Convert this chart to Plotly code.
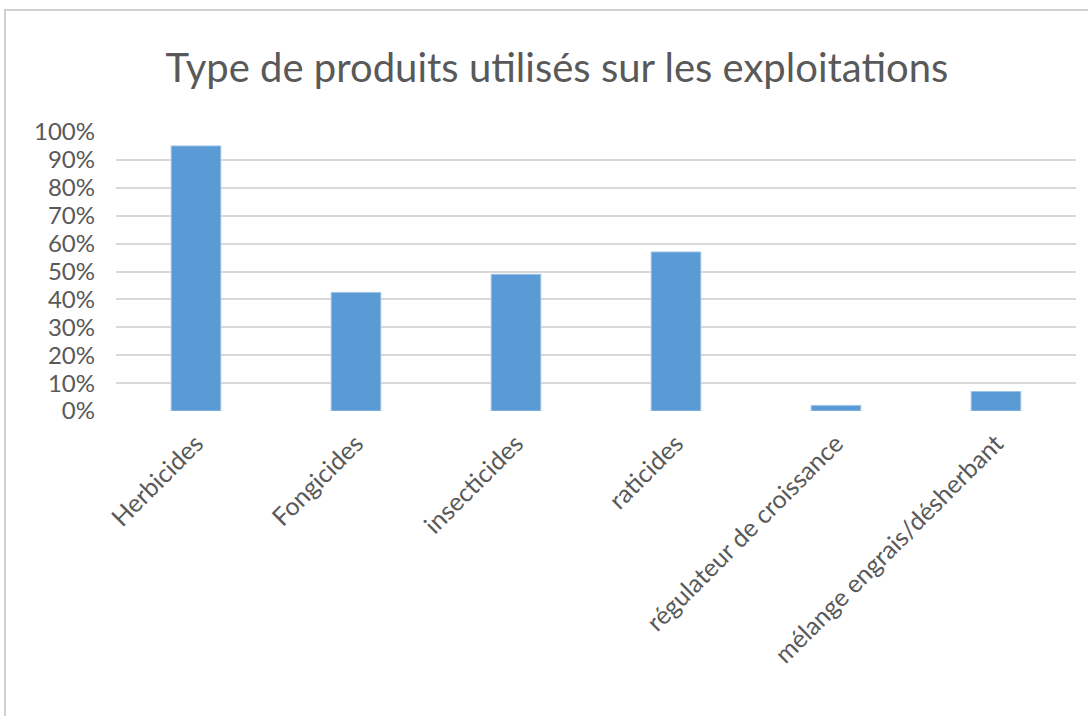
import plotly.graph_objects as go

categories = ["Herbicides", "Fongicides", "insecticides", "raticides",
              "régulateur de croissance", "mélange engrais/désherbant"]
values = [0.95, 0.425, 0.49, 0.57, 0.02, 0.07]
tick_vals = [0, 0.1, 0.2, 0.3, 0.4, 0.5, 0.6, 0.7, 0.8, 0.9, 1.0]
tick_text = ["0%", "10%", "20%", "30%", "40%", "50%", "60%", "70%", "80%", "90%", "100%"]
title = "Type de produits utilisés sur les exploitations"

FONT = "Lato, Open Sans, sans-serif"
GRAY = "#595959"

fig = go.Figure(go.Bar(
    x=categories, y=values, width=0.31,
    marker=dict(color="#5B9BD5", line=dict(color="#9DC3E6", width=1)),
))

# body margin is removed in the page, so figure pixels == reference pixels
W, H = 1088, 716
L = 116
T = 132
R = W - 1076
B = H - 411
pw, ph = W - L - R, H - T - B

def px(x):
    return (x - L) / pw

def py(y):
    return (H - B - y) / ph

fig.update_layout(
    width=W, height=H,
    margin=dict(l=L, r=R, t=T, b=B, autoexpand=False),
    paper_bgcolor="white", plot_bgcolor="white",
    showlegend=False,
    title=dict(text=title, x=px(557), xref="paper", xanchor="center",
               y=1 - 68 / H, yanchor="middle", yref="container",
               font=dict(family=FONT, size=40, color=GRAY)),
    xaxis=dict(type="category", tickangle=-45, showgrid=False, showline=False,
               ticks="", ticklabelstandoff=12,
               tickfont=dict(family=FONT, size=25, color=GRAY)),
    yaxis=dict(range=[0, 1], tickvals=tick_vals, ticktext=tick_text,
               showgrid=True, gridcolor="#D9D9D9", gridwidth=2, zeroline=False,
               ticks="", ticklabelstandoff=20,
               tickfont=dict(family=FONT, size=24, color=GRAY)),
    shapes=[dict(type="rect", xref="paper", yref="paper",
                 x0=px(5), x1=px(1100), y0=py(740), y1=py(10),
                 line=dict(color="#D0D0D0", width=2), fillcolor="rgba(0,0,0,0)",
                 layer="below")],
)

fig.write_html("out.html",
               config={"displayModeBar": False},
               post_script="document.body.style.margin='0';document.body.style.overflow='hidden';")
